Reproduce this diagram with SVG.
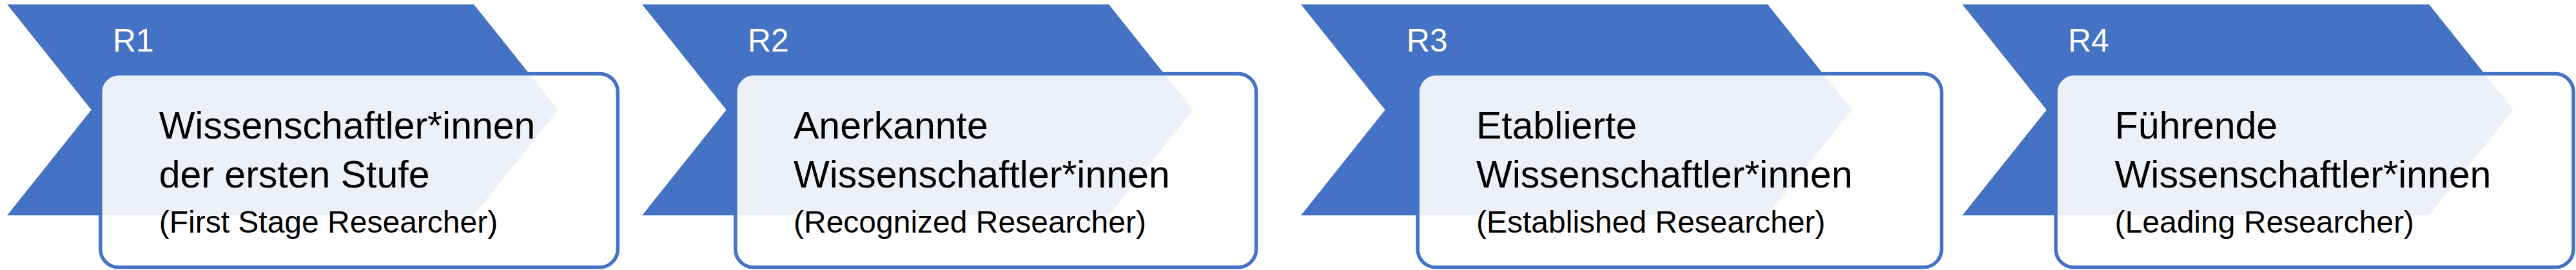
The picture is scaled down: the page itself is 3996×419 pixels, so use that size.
<svg xmlns="http://www.w3.org/2000/svg" width="3996" height="419" viewBox="0 0 3996 419">
  <style>
    .chev { fill: #4472C4; }
    .box { fill: #FFFFFF; fill-opacity: 0.9; stroke: #4472C4; stroke-width: 5.5; }
    .lbl { font-family: "Liberation Sans", Arial, sans-serif; font-size: 50px; fill: #FFFFFF; }
    .main { font-family: "Liberation Sans", Arial, sans-serif; font-size: 59px; fill: #000000; }
    .sub { font-family: "Liberation Sans", Arial, sans-serif; font-size: 48px; fill: #000000; }
  </style>
  <defs>
    <polygon id="chevron" points="11,6.7 735,6.7 865.7,170.5 735,334.3 11,334.3 141.7,170.5"/>
  </defs>
  <rect x="0" y="0" width="3996" height="419" fill="#FFFFFF"/>
  <g id="connectors"></g>

  <g id="r1">
    <use href="#chevron" class="chev"/>
    <text class="lbl" x="175" y="80">R1</text>
    <rect class="box" x="155.8" y="114.5" width="802.5" height="300.3" rx="28" ry="28"/>
    <text class="main" x="246.7" y="215">Wissenschaftler*innen</text>
    <text class="main" x="246.7" y="291">der ersten Stufe</text>
    <text class="sub" x="246.7" y="361">(First Stage Researcher)</text>
  </g>

  <g id="r2">
    <use href="#chevron" class="chev" transform="translate(985,0)"/>
    <text class="lbl" x="1160" y="80">R2</text>
    <rect class="box" x="1140.8" y="114.5" width="807.9" height="300.3" rx="28" ry="28"/>
    <text class="main" x="1231" y="215">Anerkannte</text>
    <text class="main" x="1231" y="291">Wissenschaftler*innen</text>
    <text class="sub" x="1231" y="361">(Recognized Researcher)</text>
  </g>

  <g id="r3">
    <use href="#chevron" class="chev" transform="translate(2007,0)"/>
    <text class="lbl" x="2182" y="80">R3</text>
    <rect class="box" x="2199.2" y="114.5" width="812.6" height="300.3" rx="28" ry="28"/>
    <text class="main" x="2290" y="215">Etablierte</text>
    <text class="main" x="2290" y="291">Wissenschaftler*innen</text>
    <text class="sub" x="2290" y="361">(Established Researcher)</text>
  </g>

  <g id="r4">
    <use href="#chevron" class="chev" transform="translate(3033,0)"/>
    <text class="lbl" x="3208" y="80">R4</text>
    <rect class="box" x="3189" y="114.5" width="803" height="300.3" rx="28" ry="28"/>
    <text class="main" x="3280.6" y="215">Führende</text>
    <text class="main" x="3280.6" y="291">Wissenschaftler*innen</text>
    <text class="sub" x="3280.6" y="361">(Leading Researcher)</text>
  </g>
</svg>
